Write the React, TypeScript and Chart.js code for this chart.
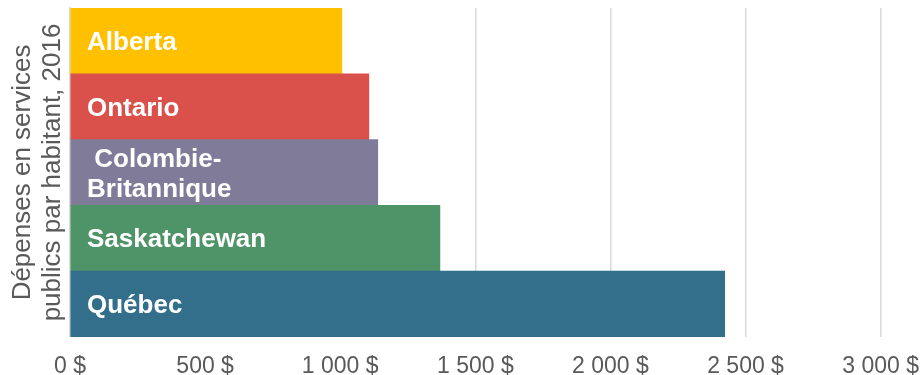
import React, { useEffect, useRef } from "react";
import { Chart, registerables } from "chart.js";

Chart.register(...registerables);

const provinces: (string | string[])[] = [
  "Alberta",
  "Ontario",
  [" Colombie-", "Britannique"],
  "Saskatchewan",
  "Québec",
];
const spending: number[] = [1006, 1106, 1139, 1369, 2423];
const barColors: string[] = ["#FFC000", "#D9514A", "#7F7B99", "#4F9368", "#336E8A"];
const xTickLabels: string[] = ["0 $", "500 $", "1 000 $", "1 500 $", "2 000 $", "2 500 $", "3 000 $"];
const yTitle: string[] = ["Dépenses en services", "publics par habitant, 2016"];

const FONT = "'Liberation Sans', Arial, sans-serif";

const inBarLabels = {
  id: "inBarLabels",
  afterDatasetsDraw(chart: any) {
    const { ctx, chartArea, scales } = chart;
    const y = scales.y;
    ctx.save();
    ctx.fillStyle = "#FFFFFF";
    ctx.font = `bold 26px ${FONT}`;
    ctx.textAlign = "left";
    ctx.textBaseline = "middle";
    const lh = 30;
    provinces.forEach((lab, i) => {
      const lines = Array.isArray(lab) ? lab : [lab];
      const cy = y.getPixelForValue(i) + 2;
      const start = cy - ((lines.length - 1) * lh) / 2;
      lines.forEach((t, j) => ctx.fillText(t, chartArea.left + 17, start + j * lh));
    });
    ctx.restore();
  },
};

export default function App() {
  const ref = useRef<HTMLCanvasElement | null>(null);
  useEffect(() => {
    if (!ref.current) return;
    const chart = new Chart(ref.current, {
      type: "bar",
      data: {
        labels: provinces,
        datasets: [
          {
            data: spending,
            backgroundColor: barColors,
            borderWidth: 0,
            barPercentage: 1,
            categoryPercentage: 1,
          },
        ],
      },
      plugins: [inBarLabels],
      options: {
        indexAxis: "y",
        animation: false,
        responsive: false,
        maintainAspectRatio: false,
        layout: { padding: { left: 4, top: 8, right: 0, bottom: -22 } },
        plugins: { legend: { display: false }, tooltip: { enabled: false } },
        scales: {
          x: {
            min: 0,
            max: 3000,
            ticks: {
              stepSize: 500,
              padding: 3,
              color: "#595959",
              font: { family: FONT, size: 23, lineHeight: 2.35 },
              callback: (_v: any, i: number) => xTickLabels[i],
            },
            grid: { color: "#D9D9D9", lineWidth: 1.5, drawTicks: false },
            border: { display: false },
          },
          y: {
            ticks: { display: false },
            grid: { display: false, drawTicks: false },
            border: { display: true, color: "#D9D9D9", width: 1.5 },
            title: {
              display: true,
              text: yTitle,
              color: "#595959",
              font: { family: FONT, size: 26, lineHeight: 1.154 },
              padding: { top: 4, bottom: 2 },
            },
          },
        },
      },
    });
    return () => chart.destroy();
  }, []);
  return (
    <div style={{ position: "fixed", left: 0, top: 0, width: 922, height: 375, background: "#fff" }}>
      <canvas ref={ref} width={922} height={375} style={{ width: 922, height: 375 }} />
    </div>
  );
}
